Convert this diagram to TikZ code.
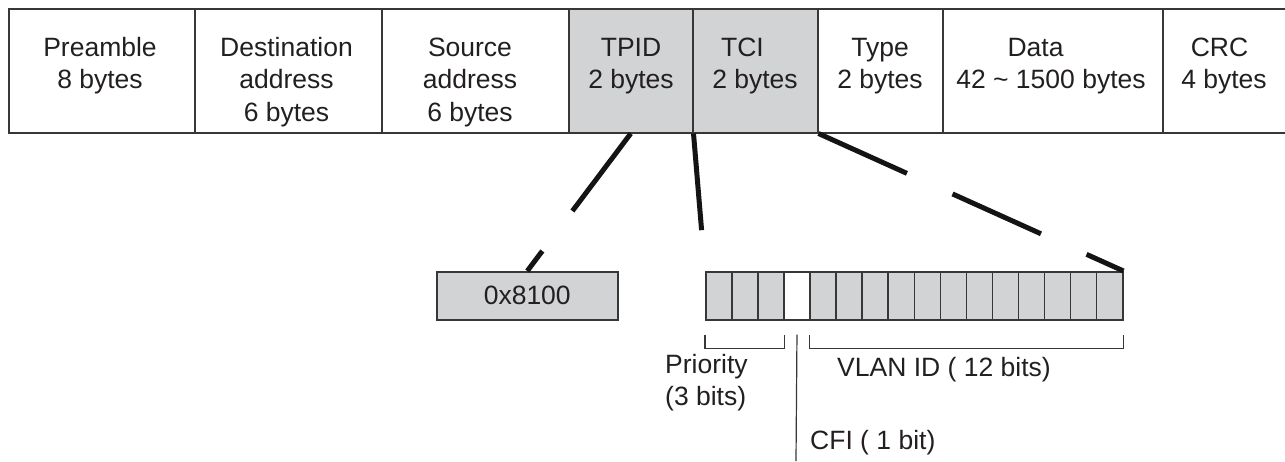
\documentclass[tikz,border=0pt]{standalone}
\usepackage{fontspec}
\setmainfont{Liberation Sans}
\definecolor{fieldgray}{RGB}{209,211,212}
\definecolor{ink}{RGB}{35,31,32}
\definecolor{rulecol}{RGB}{55,55,55}
\begin{document}
\begin{tikzpicture}[x=1pt,y=-1pt,
  field/.style={draw=rulecol, line width=1.5pt, anchor=north west,
    inner sep=0pt, minimum height=124pt},
  ftext/.style={anchor=base, align=center, inner sep=0pt, text=ink,
    font=\fontsize{26.5}{32.5}\selectfont},
  ltext/.style={anchor=base west, align=left, inner sep=0pt, text=ink,
    font=\fontsize{26.5}{32.5}\selectfont},
  cell/.style={draw=rulecol, line width=1.5pt, anchor=north west,
    inner sep=0pt, minimum width=26.0625pt, minimum height=48pt},
  link/.style={draw=black!92, line width=5pt, dash pattern=on 97pt off 50pt},
  brace/.style={draw=rulecol, line width=1.2pt}]
\useasboundingbox (0,0) rectangle (1285,461);

% Ethernet frame with 802.1Q tag
\node[field, minimum width=186pt] (pre)  at (8,8)    {};
\node[field, minimum width=187pt] (dst)  at (194,8)  {};
\node[field, minimum width=187pt] (src)  at (381,8)  {};
\node[field, minimum width=124pt, fill=fieldgray] (tpid) at (568,8) {};
\node[field, minimum width=125pt, fill=fieldgray] (tci)  at (692,8) {};
\node[field, minimum width=125pt] (type) at (817,8)  {};
\node[field, minimum width=220pt] (data) at (942,8)  {};
\node[field, minimum width=135pt] (crc)  at (1162,8) {};

% field captions (anchored on the baseline of their last line)
\node[ftext] (pre-t)  at (100,88.5)   {Preamble\\8 bytes};
\node[ftext] (dst-t)  at (286.5,121)  {Destination\\address\\6 bytes};
\node[ftext] (src-t)  at (470,121)    {Source\\address\\6 bytes};
\node[ftext] (tpid-t) at (631,88.5)   {TPID\\2 bytes};
\node[ftext] (tci-t)  at (755,88.5)   {TCI\hbox to 25pt{}\\2 bytes};
\node[ftext] (type-t) at (880,88.5)   {Type\\2 bytes};
\node[ftext] (data-t) at (1051,88.5)  {Data\hbox to 31pt{}\\42 \char`~{} 1500 bytes};
\node[ftext] (crc-t)  at (1224,88.5)  {CRC\hbox to 9pt{}\\4 bytes};

% TPID value
\node[cell, minimum width=181pt, fill=fieldgray,
  font=\fontsize{26.5}{32.5}\selectfont, text=ink] (tpidval) at (436,271)
  {0x8100\hspace{10pt}};

% TCI bits
\foreach \i/\c in {0/fieldgray,1/fieldgray,2/fieldgray,3/white,
                   4/fieldgray,5/fieldgray,6/fieldgray,7/fieldgray,
                   8/fieldgray,9/fieldgray,10/fieldgray,11/fieldgray,
                   12/fieldgray,13/fieldgray,14/fieldgray,15/fieldgray}
  \node[cell, fill=\c] (cell-\i) at ({705+\i*26.0625},271) {};

% expansion lines
\draw[link] (tpid.south) -- (tpidval.north);
\draw[link] (tpid.south east) -- (cell-0.north west);
\draw[link] (tci.south east) -- (cell-15.north east);

% bit group brackets
\draw[brace] ([yshift=-14pt]cell-0.south west) -- ([yshift=-28pt]cell-0.south west)
  -- ([yshift=-28pt]cell-2.south east) -- ([yshift=-14pt]cell-2.south east);
\draw[brace] ([yshift=-14pt]cell-4.south west) -- ([yshift=-28pt]cell-4.south west)
  -- ([yshift=-28pt]cell-15.south east) -- ([yshift=-14pt]cell-15.south east);
\coordinate (cfi-end) at (796,461);
\draw[brace] ([yshift=-14pt]cell-3.south) -- (cfi-end);

\node[ltext] (prio) at (665,405.5) {Priority\\(3 bits)};
\node[ltext] (vlan) at (837,376) {VLAN ID ( 12 bits)};
\node[ltext] (cfi)  at (810,449) {CFI ( 1 bit)};
\end{tikzpicture}
\end{document}
